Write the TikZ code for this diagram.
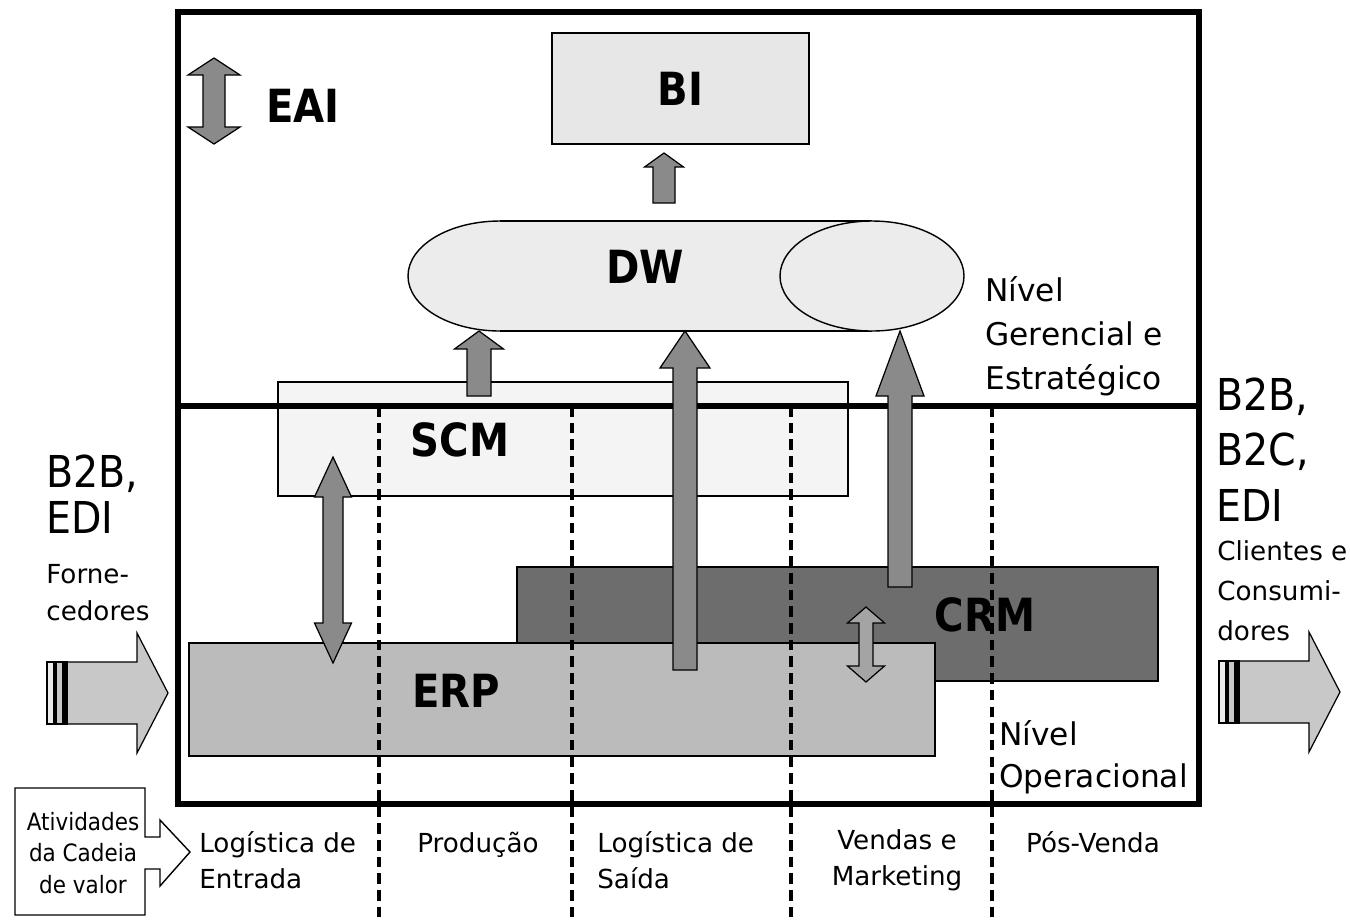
\documentclass[tikz,border=0pt]{standalone}
\usepackage{fontspec}
\setmainfont{DejaVu Sans}
\newfontfamily\condfont{DejaVu Sans}[FakeStretch=0.88]
\newfontfamily\narrowfont{DejaVu Sans}[FakeStretch=0.9]
\usetikzlibrary{calc, positioning}

\definecolor{bigray}{HTML}{E7E7E7}
\definecolor{dwgray}{HTML}{ECECEC}
\definecolor{scmgray}{HTML}{F4F4F4}
\definecolor{crmgray}{HTML}{6D6D6D}
\definecolor{erpgray}{HTML}{BBBBBB}
\definecolor{arrowgray}{HTML}{8A8A8A}
\definecolor{smallgray}{HTML}{A4A4A4}
\definecolor{sidegray}{HTML}{C8C8C8}

\newdimen\pxu \pxu=0.2mm
% seta larga para cima: cauda, ponta, meia haste, meia cabeca, comprimento da cabeca
\newcommand{\blkup}[6][blk]{%
  \draw[#1] let \p1=(#2), \p2=(#3) in
    (\x1-#4*\pxu,\y1) -- (\x1-#4*\pxu,\y2-#6*\pxu) -- (\x1-#5*\pxu,\y2-#6*\pxu) -- (\x1,\y2)
    -- (\x1+#5*\pxu,\y2-#6*\pxu) -- (\x1+#4*\pxu,\y2-#6*\pxu) -- (\x1+#4*\pxu,\y1) -- cycle;}
% seta larga dupla: ponta de baixo, ponta de cima
\newcommand{\blkboth}[6][blk]{%
  \draw[#1] let \p1=(#2), \p2=(#3) in
    (\x1,\y1) -- (\x1-#5*\pxu,\y1+#6*\pxu) -- (\x1-#4*\pxu,\y1+#6*\pxu) -- (\x1-#4*\pxu,\y2-#6*\pxu)
    -- (\x1-#5*\pxu,\y2-#6*\pxu) -- (\x1,\y2) -- (\x1+#5*\pxu,\y2-#6*\pxu) -- (\x1+#4*\pxu,\y2-#6*\pxu)
    -- (\x1+#4*\pxu,\y1+#6*\pxu) -- (\x1+#5*\pxu,\y1+#6*\pxu) -- cycle;}

\begin{document}
\begin{tikzpicture}[x=0.2mm, y=-0.2mm,
    box/.style={draw=black, line width=0.9pt, inner sep=0pt},
    boxlbl/.style={font=\condfont\bfseries\fontsize{26}{30}\selectfont, inner sep=0pt},
    frame/.style={line width=3.4pt},
    lane/.style={line width=2pt, dash pattern=on 6pt off 3.5pt},
    blk/.style={draw=black, line width=0.7pt, fill=arrowgray},
    lbl/.style={font=\fontsize{14.9}{20.4}\selectfont, inner sep=0pt, align=left},
    lvl/.style={font=\fontsize{17.8}{25}\selectfont, inner sep=0pt, align=left},
    big/.style={font=\narrowfont\fontsize{25}{26}\selectfont, inner sep=0pt, align=left},
    side/.style={draw=black, line width=0.7pt, fill=sidegray}]

    \useasboundingbox (0,0) rectangle (1350,920);

    % nivel gerencial
    \node[box, boxlbl, fill=bigray, minimum width=51.4mm, minimum height=22.2mm] (bi) at (680.5,88.5) {BI};

    \fill[dwgray] (500,276) ellipse [x radius=92, y radius=55];
    \draw[line width=0.8pt] (500,276) ellipse [x radius=92, y radius=55];
    \fill[dwgray] (500,221) rectangle (872,331);
    \draw[line width=0.8pt] (500,221) -- (872,221);
    \draw[line width=0.8pt] (500,331) -- (872,331);
    \draw[line width=0.8pt, fill=dwgray] (872,276) ellipse [x radius=92, y radius=55];
    \node[boxlbl] (dw) at (645,267) {DW};
    \coordinate (dwbot) at (645,331);

    % nivel operacional
    \node[box, fill=scmgray, minimum width=114mm, minimum height=22.8mm] (scm) at (563,439) {};
    \node[boxlbl] (scmlbl) at (460,440) {SCM};
    \node[box, fill=crmgray, minimum width=128.2mm, minimum height=22.8mm] (crm) at (837.5,624) {};
    \node[boxlbl] (crmlbl) at (985,615) {CRM};
    \node[box, fill=erpgray, minimum width=149.2mm, minimum height=22.6mm] (erp) at (562,699.5) {};
    \node[boxlbl] (erplbl) at (456,691) {ERP};

    % moldura e divisao dos niveis
    \draw[frame] (178,12) rectangle (1199,804);
    \draw[frame] (178,406) -- (1199,406);

    % atividades da cadeia de valor
    \foreach \x in {379,572,791,992}
        \draw[lane] (\x,406) -- (\x,920);

    % setas
    \coordinate (dwout) at (664,203);
    \coordinate (biin) at (664,153);
    \blkup{dwout}{biin}{11}{19.5}{14}
    \coordinate (scmout) at (479,396);
    \blkup{scmout}{scmout |- dwbot}{12}{24.5}{18}
    \coordinate (erpout) at (685,670);
    \blkup{erpout}{erpout |- dwbot}{12}{25}{37}
    \coordinate (crmout) at (900,587);
    \blkup{crmout}{crmout |- dwbot}{12}{24}{65}

    \coordinate (erpin) at (333,663);
    \coordinate (scmin) at (333,457);
    \blkboth{erpin}{scmin}{10}{18.5}{40}
    \coordinate (erptop) at (866,682);
    \coordinate (crmin) at (866,607);
    \blkboth[blk, fill=smallgray]{erptop}{crmin}{7}{18.5}{16}

    \coordinate (eaibot) at (214,144);
    \coordinate (eaitop) at (214,58);
    \blkboth{eaibot}{eaitop}{11}{26}{17}
    \node[boxlbl, anchor=west] (eai) at (266,106) {EAI};

    % setas laterais
    \foreach \sx/\sy in {47/693, 1219/692} {
        \begin{scope}[shift={(\sx,\sy)}]
            \draw[side] (0,-31) -- (90,-31) -- (90,-60) -- (121,0) -- (90,60) -- (90,31) -- (0,31) -- cycle;
            \fill[black!8] (0,-31) rectangle (6,31);
            \fill[black] (6,-31) rectangle (10,31);
            \fill[black] (15,-31) rectangle (20,31);
            \draw[line width=0.7pt] (0,-31) rectangle (20,31);
        \end{scope}
    }

    % textos (base = ultima linha)
    \node[lvl, anchor=base west] (nivger) at (985,389) {Nível\\Gerencial e\\Estratégico};
    \node[lvl, anchor=base west, font=\fontsize{17.8}{23.8}\selectfont] (nivop) at (999,787) {Nível\\Operacional};

    \node[big, anchor=base west] (b2bl) at (46,533) {B2B,\\EDI};
    \node[lbl, anchor=base west, font=\fontsize{14.9}{21}\selectfont] (forn) at (46,620) {Forne-\\cedores};
    \node[big, anchor=base west, font=\narrowfont\fontsize{25}{31.5}\selectfont] (b2br) at (1216,521) {B2B,\\B2C,\\EDI};
    \node[lbl, anchor=base west, font=\fontsize{14.9}{22.7}\selectfont] (clie) at (1217,640) {Clientes e\\Consumi-\\dores};

    \node[align=center, inner sep=0pt, anchor=base, font=\narrowfont\fontsize{13.6}{17.9}\selectfont] (ativ) at (83,893) {Atividades\\da Cadeia\\de valor};
    \draw[line width=0.8pt] (15,788) -- (145,788) -- (145,837) -- (160,837) -- (160,820) -- (190,852)
        -- (160,886) -- (160,869) -- (145,869) -- (145,915) -- (15,915) -- cycle;

    \node[lbl, anchor=base west] (entr) at (199,888) {Logística de\\Entrada};
    \node[lbl, anchor=base] (prod) at (478,852) {Produção};
    \node[lbl, anchor=base west] (said) at (597,888) {Logística de\\Saída};
    \node[lbl, anchor=base, align=center] (vend) at (897,885) {Vendas e\\Marketing};
    \node[lbl, anchor=base] (posv) at (1093,852) {Pós-Venda};
\end{tikzpicture}
\end{document}
